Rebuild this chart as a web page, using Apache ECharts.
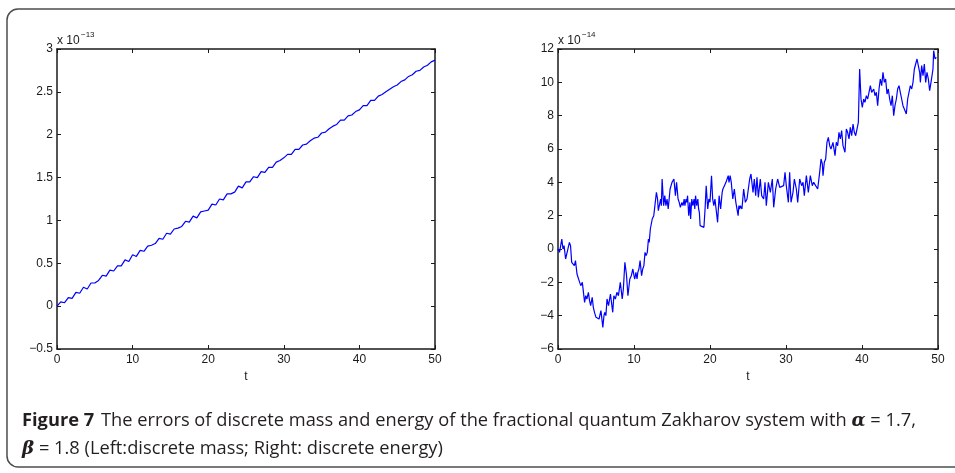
<!DOCTYPE html>
<html>
<head>
<meta charset="utf-8">
<title>Errors of discrete mass and energy</title>
<script src="https://cdn.jsdelivr.net/npm/echarts@6/dist/echarts.min.js"></script>
<style>
  html, body { margin: 0; padding: 0; background: #fff; }
  #chart { width: 955px; height: 473px; }
</style>
</head>
<body>
<div id="chart"></div>
<script>
// Discrete mass error (units of 1e-13)
const massT = [
  0, 0.5, 1, 1.5, 2, 2.5, 3, 3.5, 4, 4.5, 5, 5.5, 6, 6.5, 7, 7.5, 8, 8.5, 9, 9.5,
  10, 10.5, 11, 11.5, 12, 12.5, 13, 13.5, 14, 14.5, 15, 15.5, 16, 16.5, 17, 17.5, 18, 18.5, 19, 19.5,
  20, 20.5, 21, 21.5, 22, 22.5, 23, 23.5, 24, 24.5, 25, 25.5, 26, 26.5, 27, 27.5, 28, 28.5, 29, 29.5,
  30, 30.5, 31, 31.5, 32, 32.5, 33, 33.5, 34, 34.5, 35, 35.5, 36, 36.5, 37, 37.5, 38, 38.5, 39, 39.5,
  40, 40.5, 41, 41.5, 42, 42.5, 43, 43.5, 44, 44.5, 45, 45.5, 46, 46.5, 47, 47.5, 48, 48.5, 49, 49.5, 50
];
const massErr = [
  0.00, 0.05, 0.04, 0.10, 0.09, 0.16, 0.15, 0.22, 0.20, 0.27, 0.27, 0.30, 0.36, 0.35, 0.42, 0.41, 0.47, 0.47, 0.54, 0.52,
  0.60, 0.58, 0.65, 0.64, 0.70, 0.71, 0.73, 0.79, 0.78, 0.85, 0.84, 0.90, 0.91, 0.93, 0.99, 0.98, 1.05, 1.03, 1.10, 1.11,
  1.12, 1.19, 1.18, 1.25, 1.24, 1.31, 1.31, 1.33, 1.40, 1.38, 1.45, 1.45, 1.51, 1.50, 1.57, 1.56, 1.62, 1.62, 1.68, 1.70,
  1.73, 1.77, 1.77, 1.83, 1.83, 1.88, 1.89, 1.93, 1.96, 1.97, 2.02, 2.03, 2.07, 2.10, 2.12, 2.17, 2.17, 2.22, 2.23, 2.27,
  2.29, 2.34, 2.34, 2.40, 2.40, 2.45, 2.47, 2.50, 2.53, 2.56, 2.58, 2.62, 2.64, 2.68, 2.70, 2.74, 2.75, 2.79, 2.81, 2.85, 2.87
];

// Discrete energy error (units of 1e-14)
const energyT = [
  0, 0.2, 0.5, 0.65, 0.8, 1.0, 1.2, 1.35, 1.5, 1.65, 1.8, 2.0, 2.15, 2.3, 2.5, 2.65, 2.85, 3.0, 3.2, 3.5,
  3.65, 3.8, 4.0, 4.15, 4.3, 4.5, 4.65, 4.8, 5.0, 5.2, 5.4, 5.65, 5.9, 6.05, 6.15, 6.3, 6.45, 6.65, 6.9, 7.05,
  7.2, 7.35, 7.55, 7.75, 7.95, 8.2, 8.35, 8.45, 8.6, 8.8, 9.0, 9.2, 9.45, 9.65, 9.85, 10.0, 10.1, 10.25, 10.4, 10.5,
  10.65, 10.8, 11.0, 11.15, 11.3, 11.45, 11.6, 11.75, 11.9, 12.0, 12.15, 12.4, 12.6, 12.75, 12.95, 13.1, 13.2, 13.35, 13.5, 13.6,
  13.7, 13.9, 14.05, 14.2, 14.35, 14.5, 14.75, 15.0, 15.25, 15.45, 15.6, 15.8, 15.95, 16.1, 16.3, 16.45, 16.6, 16.7, 16.85, 16.95,
  17.05, 17.2, 17.35, 17.45, 17.6, 17.75, 17.9, 18.0, 18.1, 18.25, 18.4, 18.5, 18.6, 18.7, 19.2, 19.35, 19.5, 19.7, 19.85, 20.0,
  20.2, 20.35, 20.5, 20.65, 21.0, 21.2, 21.4, 21.6, 21.7, 21.9, 22.1, 22.25, 22.4, 22.5, 22.65, 22.8, 23.0, 23.2, 23.4, 23.7,
  23.8, 23.9, 24.0, 24.2, 24.43, 24.65, 24.87, 25.22, 25.39, 25.66, 25.83, 26.01, 26.18, 26.36, 26.62, 26.8, 27.06, 27.24, 27.41, 27.68,
  27.94, 28.2, 28.38, 28.64, 28.9, 29.17, 29.43, 29.69, 29.87, 30.04, 30.31, 30.48, 30.66, 30.92, 31.1, 31.36, 31.54, 31.8, 32.06, 32.24,
  32.41, 32.68, 32.94, 33.2, 33.46, 33.64, 33.9, 34.17, 34.43, 34.61, 34.78, 34.87, 35.04, 35.22, 35.39, 35.57, 35.75, 35.92, 36.18, 36.45,
  36.62, 36.8, 36.97, 37.15, 37.32, 37.5, 37.76, 37.94, 38.11, 38.29, 38.46, 38.64, 38.82, 38.99, 39.17, 39.34, 39.52, 39.69, 39.87, 40.04,
  40.22, 40.39, 40.57, 40.75, 40.92, 41.1, 41.27, 41.54, 41.71, 41.89, 42.06, 42.24, 42.41, 42.59, 42.76, 42.94, 43.11, 43.29, 43.46, 43.64,
  43.82, 43.99, 44.17, 44.34, 44.52, 44.69, 44.87, 45.04, 45.22, 45.39, 45.57, 45.83, 46.01, 46.18, 46.36, 46.54, 46.71, 46.89, 47.06, 47.24,
  47.41, 47.59, 47.68, 47.85, 48.03, 48.2, 48.38, 48.55, 48.73, 48.9, 49.08, 49.25, 49.34, 49.43, 49.61, 49.78, 49.87
];
const energyErr = [
  0.0, -0.2, 0.6, 0.0, 0.2, -0.6, -0.2, -0.3, 0.4, 0.2, -0.8, -0.8, -1.0, -0.7, -1.5, -1.6, -2.0, -2.2, -2.0, -3.2,
  -2.8, -3.0, -2.6, -3.1, -3.4, -2.9, -3.5, -3.8, -4.1, -4.0, -4.2, -3.7, -4.7, -4.0, -3.8, -4.0, -3.0, -3.4, -2.7, -2.8,
  -3.8, -2.8, -3.0, -2.6, -2.8, -2.0, -2.6, -3.0, -2.4, -0.8, -1.5, -2.8, -1.8, -1.6, -1.2, -1.6, -1.8, -1.4, -1.8, -1.4,
  -1.2, -0.7, -1.6, -1.2, -1.0, -0.2, -0.4, -0.2, 0.6, 0.4, 1.2, 1.8, 2.0, 2.6, 3.4, 3.0, 2.3, 2.4, 3.0, 2.6,
  4.2, 2.6, 3.2, 2.6, 3.0, 2.4, 3.6, 4.0, 4.2, 3.2, 4.0, 3.0, 2.8, 2.5, 2.8, 2.6, 3.0, 2.6, 3.0, 2.8,
  3.2, 2.0, 2.8, 1.8, 3.0, 2.6, 3.0, 2.4, 3.2, 2.6, 3.0, 2.4, 2.2, 1.4, 1.3, 2.4, 3.8, 2.4, 3.0, 2.8,
  4.4, 3.0, 2.6, 3.0, 1.6, 3.2, 2.4, 3.4, 3.6, 3.8, 4.0, 4.2, 4.4, 4.0, 4.4, 4.0, 3.0, 3.6, 2.8, 2.0,
  2.6, 2.4, 2.6, 2.4, 3.6, 2.8, 3.0, 4.2, 4.5, 3.4, 4.2, 3.2, 4.3, 3.1, 4.2, 3.2, 3.0, 4.0, 2.6, 4.0,
  3.4, 4.2, 2.5, 3.6, 4.2, 3.7, 3.6, 3.8, 4.6, 3.8, 2.8, 4.6, 2.8, 3.4, 4.2, 3.6, 2.8, 4.2, 3.8, 4.0,
  3.2, 4.4, 3.4, 4.4, 3.8, 4.0, 3.8, 3.6, 4.6, 5.4, 5.1, 4.4, 5.2, 5.4, 6.4, 6.7, 6.2, 6.0, 6.4, 5.6,
  6.4, 6.2, 7.0, 6.6, 7.1, 6.2, 5.8, 7.2, 7.0, 6.6, 7.3, 6.8, 7.5, 7.0, 6.8, 6.7, 7.6, 10.8, 9.0, 8.5,
  9.0, 8.8, 9.2, 9.0, 9.4, 9.8, 9.4, 9.6, 9.2, 9.4, 8.6, 9.6, 10.2, 9.8, 10.6, 10.0, 10.2, 9.3, 9.6, 9.0,
  8.6, 9.2, 8.0, 8.6, 9.0, 9.6, 9.8, 9.4, 9.0, 8.6, 8.4, 8.1, 9.0, 9.1, 9.8, 9.6, 10.0, 10.8, 11.1, 11.4,
  11.0, 10.6, 10.0, 11.0, 10.4, 11.1, 10.0, 10.6, 10.2, 9.5, 10.0, 10.1, 10.8, 11.9, 11.4, 11.5, 11.5
];

// Axis ranges and tick spacing
const tRange = [0, 50, 10];
const massRange = [-0.5, 3, 0.5];
const energyRange = [-6, 12, 2];
const massExponent = '\u221213';
const energyExponent = '\u221214';

const captionLine1 = 'The errors of discrete mass and energy of the fractional quantum Zakharov system with ';
const captionLine2 = ' = 1.8 (Left:discrete mass; Right: discrete energy)';

const FONT = '"Liberation Sans", Arial, Helvetica, sans-serif';
const INK = '#1a1a1a';
const minus = v => String(v).replace('-', '\u2212');

function pairs(xs, ys) { return xs.map((x, i) => [x, ys[i]]); }

function xAxes(gridIndex) {
  const common = {
    type: 'value', gridIndex, min: tRange[0], max: tRange[1], interval: tRange[2],
    axisLine: { show: true, onZero: false, lineStyle: { color: INK, width: 1.5 } },
    axisTick: { show: true, inside: true, length: 4, lineStyle: { color: INK, width: 1 } },
    splitLine: { show: false }
  };
  return [
    Object.assign({}, common, {
      position: 'bottom',
      axisLabel: { show: true, color: INK, fontSize: 12, fontFamily: FONT, margin: 5 },
      name: 't', nameLocation: 'middle', nameGap: 22,
      nameTextStyle: { color: INK, fontSize: 12, fontFamily: FONT }
    }),
    Object.assign({}, common, { position: 'top', axisLabel: { show: false } })
  ];
}

function yAxes(gridIndex, range) {
  const common = {
    type: 'value', gridIndex, min: range[0], max: range[1], interval: range[2],
    axisLine: { show: true, onZero: false, lineStyle: { color: INK, width: 1.5 } },
    axisTick: { show: true, inside: true, length: 4, lineStyle: { color: INK, width: 1 } },
    splitLine: { show: false }
  };
  return [
    Object.assign({}, common, {
      position: 'left',
      axisLabel: { show: true, color: INK, fontSize: 12, fontFamily: FONT, margin: 4, formatter: minus }
    }),
    Object.assign({}, common, { position: 'right', axisLabel: { show: false } })
  ];
}

// "x 10" with a raised exponent, placed above the top-left corner of a plot
function exponentLabel(x, exp) {
  return [
    {
      type: 'text', left: x, top: 35, silent: true,
      style: { text: 'x 10', fontSize: 12, fontFamily: FONT, fill: INK }
    },
    {
      type: 'text', left: x + 24, top: 31, silent: true,
      style: { text: exp, fontSize: 8, fontFamily: FONT, fill: INK }
    }
  ];
}

const captionRich = {
  b: { fontSize: 18, fontWeight: 'bold', fontFamily: '"Open Sans", sans-serif', fill: '#231f20' },
  r: { fontSize: 18, fontFamily: '"Open Sans", sans-serif', fill: '#231f20' },
  m: { fontSize: 18, fontWeight: 'bold', fontStyle: 'italic', fontFamily: '"DejaVu Serif", serif', fill: '#231f20' }
};

const chart = echarts.init(document.getElementById('chart'), null, { renderer: 'canvas' });

chart.setOption({
  animation: false,
  backgroundColor: '#ffffff',
  grid: [
    { left: 57, top: 49, width: 378, height: 300 },
    { left: 558, top: 49, width: 380, height: 300 }
  ],
  xAxis: [...xAxes(0), ...xAxes(1)],
  yAxis: [...yAxes(0, massRange), ...yAxes(1, energyRange)],
  series: [
    {
      type: 'line', xAxisIndex: 0, yAxisIndex: 0, showSymbol: false, symbol: 'none',
      lineStyle: { color: '#0000ff', width: 1.2 }, data: pairs(massT, massErr)
    },
    {
      type: 'line', xAxisIndex: 2, yAxisIndex: 2, showSymbol: false, symbol: 'none',
      lineStyle: { color: '#0000ff', width: 1.2 }, data: pairs(energyT, energyErr)
    }
  ],
  graphic: [
    {
      type: 'rect', silent: true,
      shape: { x: 7, y: 9, width: 990, height: 458, r: 11 },
      style: { fill: 'none', stroke: '#4d4d4d', lineWidth: 1.5 }
    },
    ...exponentLabel(57, massExponent),
    ...exponentLabel(558, energyExponent),
    {
      type: 'text', left: 22, top: 412, scaleX: 1.015, silent: true,
      style: {
        text: '{b|Figure 7}  {r|' + captionLine1 + '}{m|\u03b1}{r| = 1.7,}',
        rich: captionRich
      }
    },
    {
      type: 'text', left: 22, top: 440, scaleX: 1.015, silent: true,
      style: {
        text: '{m|\u03b2}{r|' + captionLine2 + '}',
        rich: captionRich
      }
    }
  ]
});
</script>
</body>
</html>
